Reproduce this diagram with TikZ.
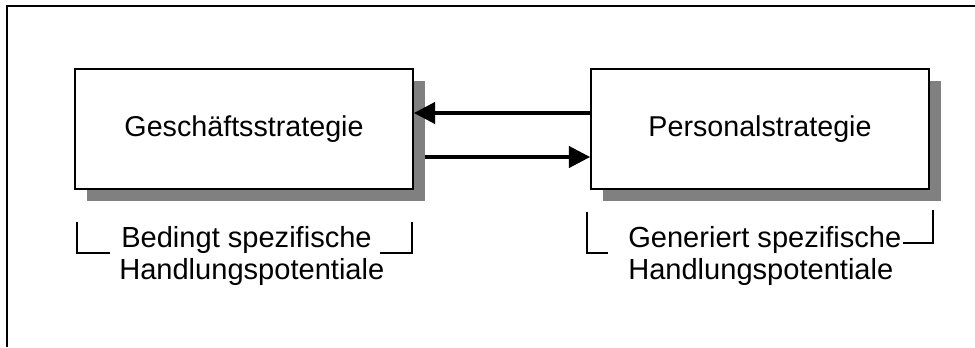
\documentclass[tikz,border=0pt]{standalone}
\usepackage{fontspec}
\setmainfont{Liberation Sans}
\usetikzlibrary{arrows.meta,shadows}
\definecolor{shadowgray}{HTML}{808080}
\tikzset{
  stratbox/.style={draw=black, line width=1.3pt, fill=white, minimum width=253.5pt, minimum height=90pt,
    inner sep=0pt, font=\fontsize{21.5}{24}\selectfont,
    drop shadow={shadow xshift=9pt, shadow yshift=-9pt, fill=shadowgray, opacity=1}},
  labeltext/.style={anchor=base west, inner sep=0pt, font=\fontsize{21.8}{24}\selectfont},
  bracketline/.style={draw=black, line width=1pt},
  flow/.style={line width=2.6pt, -{Triangle[length=16pt,width=16pt]}},
  frameline/.style={draw=black, line width=1.4pt}
}
\begin{document}
\begin{tikzpicture}[x=0.75pt, y=-0.75pt]
\useasboundingbox (0,0) rectangle (975,347);
% outer frame (only top and left visible)
\draw[frameline] (975,6) -- (7,6) -- (7,347);
% boxes
\node[stratbox] (b1) at (244,129) {Geschäftsstrategie};
\node[stratbox] (b2) at (760,129) {Personalstrategie};
% arrows
\draw[flow] ([yshift=12pt]b2.west) -- ([yshift=12pt]b1.east);
\draw[flow] ([xshift=8.25pt,yshift=-21pt]b1.east) -- ([yshift=-21pt]b2.west);
% labels
\node[labeltext] (l1a) at (121,247) {Bedingt spezifische};
\node[labeltext] (l1b) at (119,279) {Handlungspotentiale};
\node[labeltext] (l2a) at (628,247) {Generiert spezifische};
\node[labeltext] (l2b) at (628,279) {Handlungspotentiale};
% brackets
\draw[bracketline] (77,222) -- (77,253) -- (110,253);
\draw[bracketline] (380,253) -- (412,253) -- (412,222);
\draw[bracketline] (587,212) -- (587,253) -- (608,253);
\draw[bracketline] (903,243) -- (933,243) -- (933,210);
\end{tikzpicture}
\end{document}
